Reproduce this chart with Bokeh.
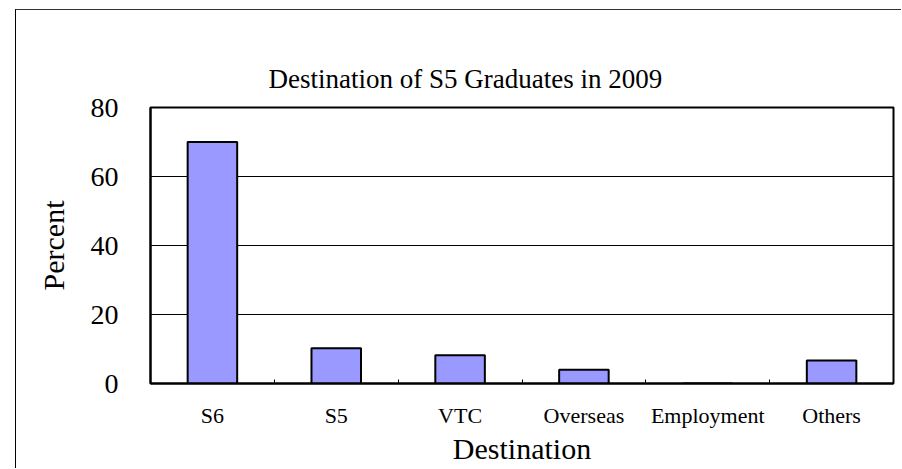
from bokeh.plotting import figure
from bokeh.models import Range1d, FixedTicker, LinearAxis
from bokeh.embed import file_html
from bokeh.resources import INLINE

# ---- data ----
categories = ["S6", "S5", "VTC", "Overseas", "Employment", "Others"]
percent = [70.0, 10.2, 8.2, 4.0, 0.0, 6.7]
y_ticks = [0, 20, 40, 60, 80]
title_text = "Destination of S5 Graduates in 2009"
x_label = "Destination"
y_label = "Percent"

FONT = "Liberation Serif"
BAR_FILL = "#9999FF"

n = len(categories)
centers = [i + 0.5 for i in range(n)]
boundaries = [i for i in range(1, n)]

p = figure(
    width=886, height=459,
    x_range=Range1d(0, n), y_range=Range1d(0, 80),
    output_backend="svg", toolbar_location=None,
    min_border_left=134, min_border_right=9,
    min_border_top=97, min_border_bottom=86,
    background_fill_color="white", border_fill_color="white",
    styles={"margin-left": "15px", "margin-top": "9px",
            "border-left": "1px solid black", "border-top": "1px solid #333333"},
)
p.outline_line_color = "black"
p.outline_line_width = 2

# invisible spacer (no ticks are drawn) between the title and the plot frame
spacer = LinearAxis(ticker=FixedTicker(ticks=[]), axis_line_color=None,
                    major_tick_line_color="white", minor_tick_line_color=None,
                    major_tick_in=0, major_tick_out=36, minor_tick_out=0,
                    major_label_standoff=0, axis_label=None)
p.add_layout(spacer, "above")

p.title.text = title_text
p.title.align = "left"
p.title.offset = 118
p.title.standoff = 28
p.title.text_font = FONT
p.title.text_font_size = "27px"
p.title.text_font_style = "normal"
p.title.text_color = "black"

p.vbar(x=centers, top=percent, width=0.4, bottom=0,
       fill_color=BAR_FILL, line_color="black", line_width=2)

# x axis (the one below the frame)
xa = p.below[0]
xa.ticker = FixedTicker(ticks=centers, minor_ticks=boundaries)
xa.major_label_overrides = {c: name for c, name in zip(centers, categories)}
xa.major_tick_line_color = None
xa.major_tick_in = 0
xa.major_tick_out = 0
xa.minor_tick_line_color = "black"
xa.minor_tick_line_width = 1
xa.minor_tick_in = 4
xa.minor_tick_out = 0
xa.major_label_text_font = FONT
xa.major_label_text_font_size = "22px"
xa.major_label_text_color = "black"
xa.major_label_standoff = 19
xa.axis_label = x_label
xa.axis_label_text_font = FONT
xa.axis_label_text_font_size = "30px"
xa.axis_label_text_font_style = "normal"
xa.axis_label_text_color = "black"
xa.axis_label_standoff = 1
xa.axis_line_color = "black"
xa.axis_line_width = 2

# y axis
ya = p.left[0]
ya.ticker = FixedTicker(ticks=y_ticks)
ya.major_tick_line_color = "black"
ya.major_tick_line_width = 1
ya.major_tick_in = 9
ya.major_tick_out = 0
ya.minor_tick_line_color = None
ya.major_label_text_font = FONT
ya.major_label_text_font_size = "28px"
ya.major_label_text_color = "black"
ya.major_label_standoff = 32
ya.axis_label = y_label
ya.axis_label_text_font = FONT
ya.axis_label_text_font_size = "30px"
ya.axis_label_text_font_style = "normal"
ya.axis_label_text_color = "black"
ya.axis_label_standoff = 18
ya.axis_line_color = "black"
ya.axis_line_width = 2

p.xgrid.visible = False
p.ygrid.ticker = FixedTicker(ticks=y_ticks)
p.ygrid.grid_line_color = "black"
p.ygrid.grid_line_width = 1

open("out.html", "w").write(file_html(p, INLINE))
